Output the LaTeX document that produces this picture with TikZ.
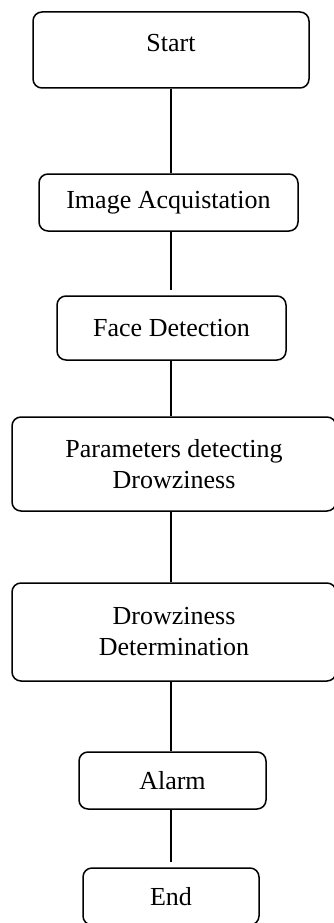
\documentclass[tikz,border=0pt]{standalone}
\usepackage{fontspec}
\setmainfont{Liberation Serif}
\begin{document}
\begin{tikzpicture}[x=1pt,y=-1pt,
  box/.style={draw, line width=1.5pt, rounded corners=9pt, inner sep=0pt, align=center,
    font=\fontsize{26}{31}\selectfont},
  conn/.style={line width=1.5pt}]
\useasboundingbox (0,0) rectangle (333,923);
\node[box, minimum width=276pt, minimum height=76pt, text depth=14pt] (start) at (171,50) {Start};
\node[box, minimum width=259pt, minimum height=57pt] (img) at (168.5,202.5) {Image Acquistation};
\node[box, minimum width=229pt, minimum height=64pt] (face) at (171.5,328) {Face Detection};
\node[box, minimum width=324pt, minimum height=94pt] (param) at (174,464) {Parameters detecting\\Drowziness};
\node[box, minimum width=324pt, minimum height=98pt] (det) at (174,632) {Drowziness\\Determination};
\node[box, minimum width=187pt, minimum height=57pt] (alarm) at (172.5,780.5) {Alarm};
\node[box, minimum width=176pt, minimum height=57pt] (end) at (171,896.5) {End};
\draw[conn] (start.south) -- (start.south |- img.north);
\draw[conn, shorten >=5pt] (start.south |- img.south) -- (start.south |- face.north);
\draw[conn] (start.south |- face.south) -- (start.south |- param.north);
\draw[conn] (start.south |- param.south) -- (start.south |- det.north);
\draw[conn] (start.south |- det.south) -- (start.south |- alarm.north);
\draw[conn, shorten >=5pt] (start.south |- alarm.south) -- (start.south |- end.north);
\end{tikzpicture}
\end{document}
